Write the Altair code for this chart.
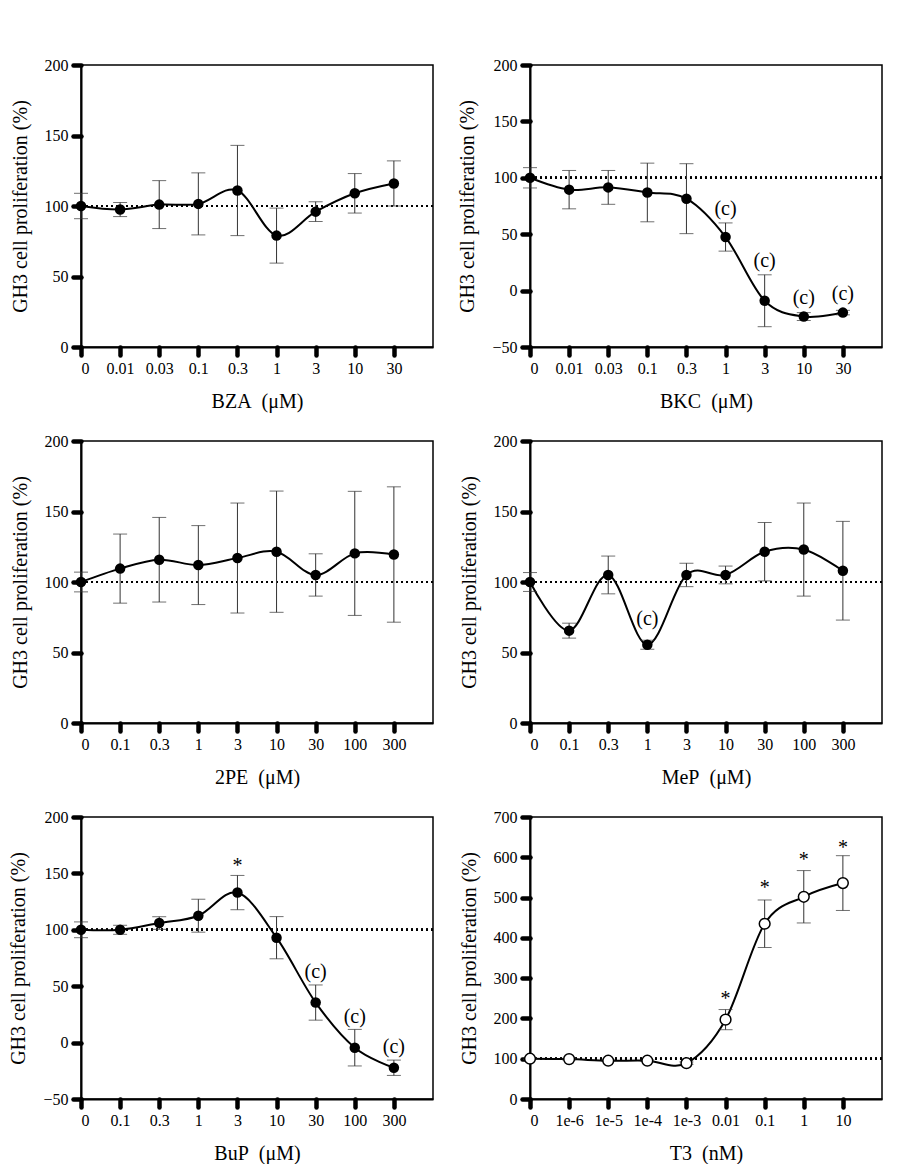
import altair as alt
import pandas as pd

# ---------------- data ----------------
conc_bza = ["0", "0.01", "0.03", "0.1", "0.3", "1", "3", "10", "30"]
mean_bza = [100, 97.5, 101, 101.5, 111, 79, 96, 109, 116]
err_bza = [9, 5, 17, 22, 32, 19.5, 7, 14, 16]

conc_bkc = ["0", "0.01", "0.03", "0.1", "0.3", "1", "3", "10", "30"]
mean_bkc = [100, 89.5, 91.5, 87, 81.5, 47.5, -9, -23, -19.5]
err_bkc = [9, 17, 15, 26, 31, 12.5, 23, 3.5, 2]

conc_2pe = ["0", "0.1", "0.3", "1", "3", "10", "30", "100", "300"]
mean_2pe = [100, 109.5, 115.8, 112, 117, 121.5, 105, 120.3, 119.5]
err_2pe = [7, 24.5, 30, 28, 39, 43, 15, 44, 48]

conc_mep = ["0", "0.1", "0.3", "1", "3", "10", "30", "100", "300"]
mean_mep = [100, 65.5, 105, 55.5, 105, 105, 121.5, 123, 108]
err_mep = [6.7, 5.3, 13.4, 3.2, 8.3, 6.3, 20.7, 33, 35]

conc_bup = ["0", "0.1", "0.3", "1", "3", "10", "30", "100", "300"]
mean_bup = [100, 100, 106, 112.5, 133, 93, 35.5, -4.5, -22.3]
err_bup = [7, 4, 5.6, 14.6, 15.2, 18.7, 15.6, 16.2, 6.8]

conc_t3 = ["0", "1e-6", "1e-5", "1e-4", "1e-3", "0.01", "0.1", "1", "10"]
mean_t3 = [100, 99, 95, 95, 89, 197, 435, 502, 536]
err_t3 = [2, 2, 2, 2, 3, 25, 59, 65, 68]

# annotations: (index of concentration, text, y value of text centre)
ann_bkc_i = [5, 6, 7, 8]
ann_bkc_t = ["(c)", "(c)", "(c)", "(c)"]
ann_bkc_y = [72, 26, -7, -3]

ann_mep_i = [3]
ann_mep_t = ["(c)"]
ann_mep_y = [74]

ann_bup_i = [4, 6, 7, 8]
ann_bup_t = ["*", "(c)", "(c)", "(c)"]
ann_bup_y = [160, 63, 23, -4]

ann_t3_i = [5, 6, 7, 8]
ann_t3_t = ["*", "*", "*", "*"]
ann_t3_y = [258, 534, 602, 634]

YTITLE = "GH3 cell proliferation (%)"
W, H = 352, 282
FONT = "Liberation Serif"

AXIS_STYLE = dict(
    grid=False, domain=True, domainColor="black", domainWidth=2,
    ticks=True, tickColor="black", tickWidth=4.5, tickSize=8, tickCap="round",
    labelFont=FONT, labelFontSize=16, labelColor="black", labelOverlap=False,
    titleFont=FONT, titleFontSize=20, titleFontWeight="normal", titleColor="black",
)


def panel(name, unit, conc, mean, err, ydom, ystep, open_pts=False,
          ann_i=None, ann_t=None, ann_y=None):
    df = pd.DataFrame({"i": list(range(len(conc))), "mean": mean, "err": err})
    df["lo"] = df["mean"] - df["err"]
    df["hi"] = df["mean"] + df["err"]
    labexpr = "[" + ",".join("'%s'" % c for c in conc) + "][datum.value]"
    xs = alt.Scale(domain=[0, 9], nice=False, zero=False)
    ys = alt.Scale(domain=ydom, nice=False, zero=False)
    xaxis = alt.Axis(values=list(range(len(conc))), labelExpr=labexpr,
                     title=name + "\u00a0 (" + unit + ")",
                     labelPadding=5, titlePadding=15, **AXIS_STYLE)
    yaxis = alt.Axis(values=list(range(ydom[0], ydom[1] + 1, ystep)),
                     title=YTITLE, labelPadding=5, titlePadding=14, **AXIS_STYLE)
    xenc = alt.X("i:Q", scale=xs, axis=xaxis)
    yenc = alt.Y("mean:Q", scale=ys, axis=yaxis)
    base = alt.Chart(df)
    ref = alt.Chart(df).mark_rule(strokeDash=[2, 3], strokeWidth=2, color="black").encode(
        x=alt.datum(0, scale=xs, axis=xaxis), x2=alt.datum(9),
        y=alt.datum(100, scale=ys, axis=yaxis))
    bars = base.mark_rule(color="#333333", strokeWidth=1).encode(
        x=alt.X("i:Q", scale=xs, axis=xaxis), y=alt.Y("lo:Q", scale=ys, axis=yaxis), y2="hi:Q")
    caps_hi = base.mark_tick(orient="horizontal", size=14, thickness=1, color="#333333").encode(
        x=alt.X("i:Q", scale=xs, axis=xaxis), y=alt.Y("hi:Q", scale=ys, axis=yaxis))
    caps_lo = base.mark_tick(orient="horizontal", size=14, thickness=1, color="#333333").encode(
        x=alt.X("i:Q", scale=xs, axis=xaxis), y=alt.Y("lo:Q", scale=ys, axis=yaxis))
    line = base.mark_line(interpolate="cardinal", color="black", strokeWidth=2).encode(
        x=xenc, y=yenc)
    if open_pts:
        pts = base.mark_circle(size=115, fill="white", stroke="black", strokeWidth=1.5,
                               opacity=1).encode(x=xenc, y=yenc)
    else:
        pts = base.mark_circle(size=110, color="black", opacity=1).encode(x=xenc, y=yenc)
    layers = [line, ref, bars, caps_hi, caps_lo, pts]
    if ann_i:
        adf = pd.DataFrame({"i": ann_i, "t": ann_t, "y": ann_y})
        star = adf[adf["t"] == "*"]
        par = adf[adf["t"] != "*"]
        if len(par):
            layers.append(alt.Chart(par).mark_text(font=FONT, fontSize=20, baseline="middle",
                                                   color="black").encode(
                x=alt.X("i:Q", scale=xs, axis=xaxis), y=alt.Y("y:Q", scale=ys, axis=yaxis),
                text="t:N"))
        if len(star):
            layers.append(alt.Chart(star).mark_text(font=FONT, fontSize=20, baseline="middle",
                                                    dy=4, color="black").encode(
                x=alt.X("i:Q", scale=xs, axis=xaxis), y=alt.Y("y:Q", scale=ys, axis=yaxis),
                text="t:N"))
    return alt.layer(*layers).properties(width=W, height=H)


p1 = panel("BZA", "μM", conc_bza, mean_bza, err_bza, [0, 200], 50)
p2 = panel("BKC", "μM", conc_bkc, mean_bkc, err_bkc, [-50, 200], 50,
           ann_i=ann_bkc_i, ann_t=ann_bkc_t, ann_y=ann_bkc_y)
p3 = panel("2PE", "μM", conc_2pe, mean_2pe, err_2pe, [0, 200], 50)
p4 = panel("MeP", "μM", conc_mep, mean_mep, err_mep, [0, 200], 50,
           ann_i=ann_mep_i, ann_t=ann_mep_t, ann_y=ann_mep_y)
p5 = panel("BuP", "μM", conc_bup, mean_bup, err_bup, [-50, 200], 50,
           ann_i=ann_bup_i, ann_t=ann_bup_t, ann_y=ann_bup_y)
p6 = panel("T3", "nM", conc_t3, mean_t3, err_t3, [0, 700], 100, open_pts=True,
           ann_i=ann_t3_i, ann_t=ann_t3_t, ann_y=ann_t3_y)

chart = alt.concat(p1, p2, p3, p4, p5, p6, columns=2,
                   spacing={"row": 20, "column": 22}).properties(
    padding={"left": 0, "top": 48, "right": 5, "bottom": 0},
    background="white",
).configure_view(stroke="black", strokeWidth=1.5)

chart.save("out.html", embed_options={"renderer": "svg", "actions": False})
